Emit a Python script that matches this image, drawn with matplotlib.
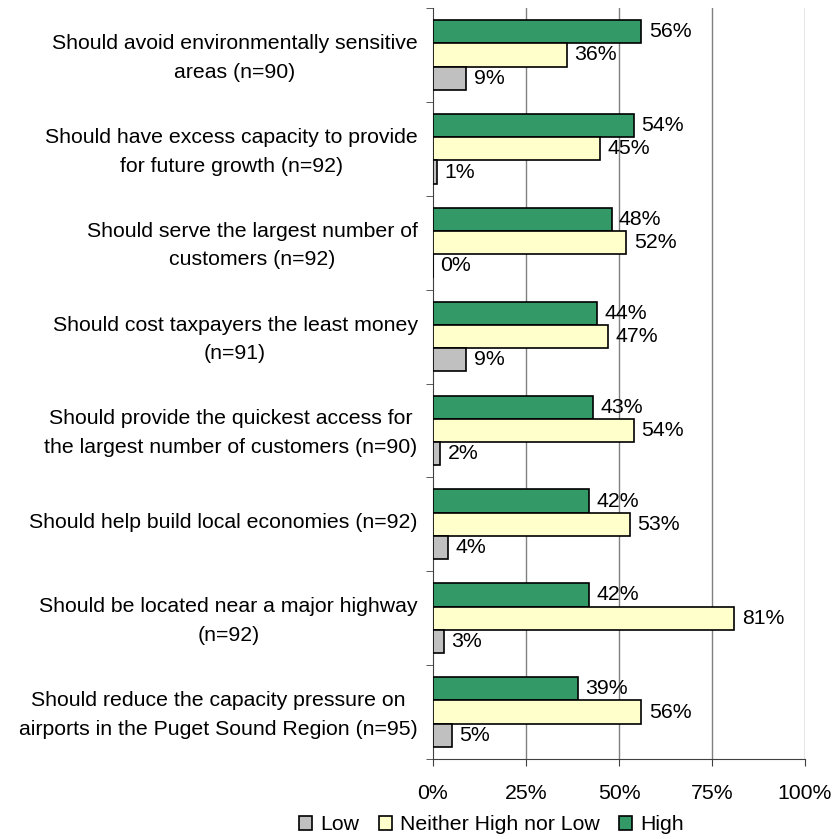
import matplotlib.pyplot as plt
import numpy as np
from matplotlib.patches import Patch
from matplotlib.transforms import ScaledTranslation

plt.rcParams['font.family'] = ['Liberation Sans', 'DejaVu Sans']

# Datos (porcentajes)
categorias = [
    'Should avoid environmentally sensitive\nareas (n=90)',
    'Should have excess capacity to provide\nfor future growth (n=92)',
    'Should serve the largest number of\ncustomers (n=92)',
    'Should cost taxpayers the least money\n(n=91)',
    'Should provide the quickest access for\nthe largest number of customers (n=90)',
    'Should help build local economies (n=92)',
    'Should be located near a major highway\n(n=92)',
    'Should reduce the capacity pressure on\nairports in the Puget Sound Region (n=95)',
]
high = [56, 54, 48, 44, 43, 42, 42, 39]
neither = [36, 45, 52, 47, 54, 53, 81, 56]
low = [9, 1, 0, 9, 2, 4, 3, 5]
xticks = [0, 25, 50, 75, 100]
xticklabels = ['0%', '25%', '50%', '75%', '100%']

colores = {'Low': '#C0C0C0', 'Neither High nor Low': '#FFFFCC', 'High': '#339966'}
fs = 15.3

fig = plt.figure(figsize=(8.39, 8.39), dpi=100)
ax = fig.add_axes([0.516, 0.0953, 0.4435, 0.8952])

y = np.arange(len(categorias))
h = 0.248
series = [(high, 'High', -h), (neither, 'Neither High nor Low', 0), (low, 'Low', h)]
for vals, nombre, off in series:
  bars = ax.barh(y + off, vals, height=h, color=colores[nombre],
                 edgecolor='black', linewidth=1.2, zorder=3)
  for bar, v in zip(bars, vals):
    ax.text(bar.get_width() + 2.0, bar.get_y() + bar.get_height() / 2,
            '%d%%' % v, va='center', ha='left', fontsize=fs, zorder=4)

ax.set_xlim(0, 100)
ax.set_ylim(len(categorias) - 0.5, -0.5)

ax.set_xticks(xticks)
ax.set_xticklabels(xticklabels, fontsize=fs)
ax.tick_params(axis='x', direction='out', length=5, pad=13, color='#404040')

ax.set_yticks(y)
ax.set_yticklabels(categorias, fontsize=fs, multialignment='center', linespacing=1.65)
ax.tick_params(axis='y', which='major', length=0, pad=11)
ax.set_yticks(np.arange(len(categorias) + 1) - 0.5, minor=True)
ax.tick_params(axis='y', which='minor', direction='out', length=5, color='#404040')
# subir un poco las etiquetas de categoria
desplazamiento = ScaledTranslation(0, 0.04, fig.dpi_scale_trans)
for lbl in ax.get_yticklabels():
  lbl.set_transform(lbl.get_transform() + desplazamiento)

for g in xticks[1:]:
  ax.axvline(g, color='#808080', linewidth=1, zorder=1)

for s in ['top', 'right']:
  ax.spines[s].set_visible(False)
ax.spines['left'].set_color('#404040')
ax.spines['bottom'].set_color('#404040')

handles = [Patch(facecolor=colores[n], edgecolor='black', linewidth=1.2, label=n)
           for n in ['Low', 'Neither High nor Low', 'High']]
fig.legend(handles=handles, loc='center', bbox_to_anchor=(0.586, 0.0167), ncol=3,
           frameon=False, fontsize=fs, handlelength=0.6, handleheight=0.6,
           handletextpad=0.4, columnspacing=0.9)

fig.savefig('out.png', dpi=100)
